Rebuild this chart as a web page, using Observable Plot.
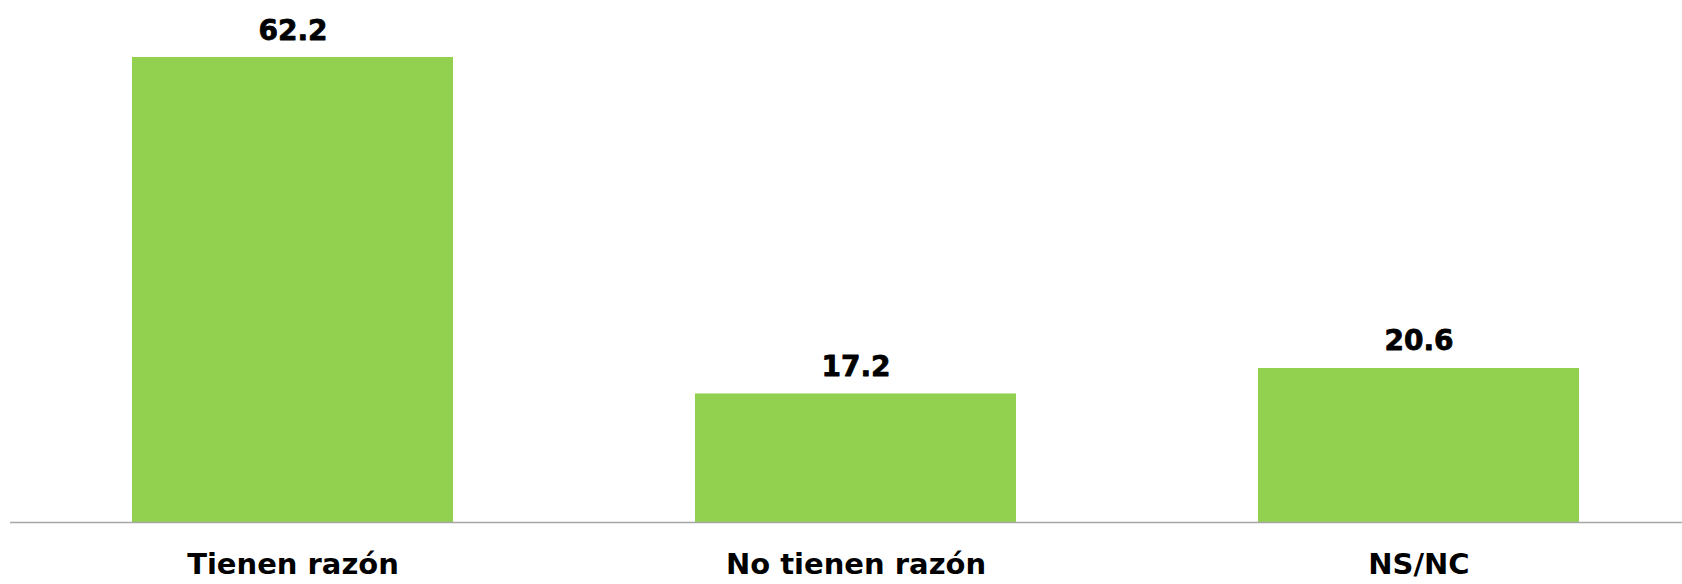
<!DOCTYPE html>
<html>
<head>
<meta charset="utf-8">
<script src="https://cdn.jsdelivr.net/npm/d3@7"></script>
<script src="https://cdn.jsdelivr.net/npm/@observablehq/plot@0.6"></script>
<style>
  html, body { margin: 0; padding: 0; background: #fff; }
  svg { display: block; }
</style>
</head>
<body>
<div id="chart"></div>
<script>
const categories = ["Tienen razón", "No tienen razón", "NS/NC"];
const values = [62.2, 17.2, 20.6];
const valueLabels = ["62.2", "17.2", "20.6"];

const data = categories.map((c, i) => ({category: c, value: values[i], label: valueLabels[i]}));

const chart = Plot.plot({
  width: 1682,
  height: 584,
  marginLeft: 10,
  marginRight: 0,
  marginTop: 57,
  marginBottom: 62,
  style: {fontFamily: "'DejaVu Sans', sans-serif", background: "#fff", overflow: "visible"},
  x: {domain: categories, range: [131, 1581], paddingInner: 0.429, paddingOuter: 0, label: null},
  y: {domain: [0, 62.2], range: [522, 57], axis: null},
  marks: [
    Plot.barY(data, {x: "category", y: "value", fill: "#92D050"}),
    Plot.ruleY([0], {stroke: "#a6a6a6", strokeWidth: 1.5}),
    Plot.text(data, {x: "category", y: "value", text: "label", lineAnchor: "bottom", dy: -18, fontSize: 28, fontWeight: "bold", fill: "#000", stroke: "#000", strokeWidth: 0.8}),
    Plot.axisX({tickSize: 0, tickPadding: 31, fontSize: 29, fontWeight: "bold", fill: "#000", stroke: "#000", strokeWidth: 0.8, label: null})
  ]
});
document.getElementById("chart").appendChild(chart);
</script>
</body>
</html>
